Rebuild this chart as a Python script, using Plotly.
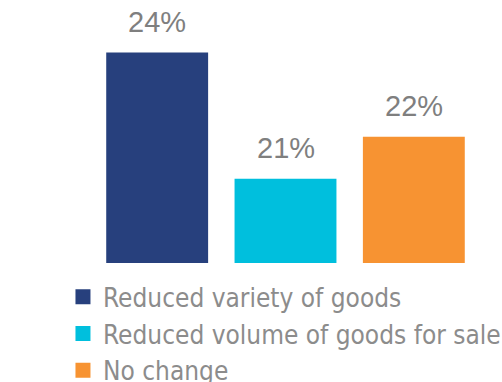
import plotly.graph_objects as go

categories = ["Reduced variety of goods", "Reduced volume of goods for sale", "No change"]
values = [24, 21, 22]
colors = ["#27407d", "#00bfdd", "#f79332"]
label_text = [f"{v}%" for v in values]

fig = go.Figure()

# bars (legend entries are drawn by marker-only traces below)
fig.add_trace(go.Bar(
    x=categories, y=values,
    marker=dict(color=colors, line=dict(width=0)),
    showlegend=False, hoverinfo="skip",
))

for name, col in zip(categories, colors):
    fig.add_trace(go.Scatter(
        x=[None], y=[None], mode="markers", name=name,
        marker=dict(symbol="square", size=15, color=col),
    ))

for cat, val, txt in zip(categories, values, label_text):
    fig.add_annotation(
        x=cat, y=val, text=txt, showarrow=False,
        yanchor="bottom", yshift=13,
        font=dict(family="Liberation Sans", size=29, color="#7f7f7f"),
    )

fig.update_layout(
    width=502, height=382,
    margin=dict(l=93, r=24, t=0, b=119, pad=0, autoexpand=False),
    paper_bgcolor="white", plot_bgcolor="white",
    bargap=0.206,
    xaxis=dict(visible=False),
    yaxis=dict(visible=False, range=[19, 25.25]),
    showlegend=True,
    legend=dict(
        orientation="v", x=-0.078, xanchor="left", y=-0.039, yanchor="top",
        font=dict(family="DejaVu Sans Condensed, DejaVu Sans", size=26, color="#8c8c8c"),
        itemclick=False, bgcolor="rgba(0,0,0,0)",
    ),
)

fig.write_html("out.html")
